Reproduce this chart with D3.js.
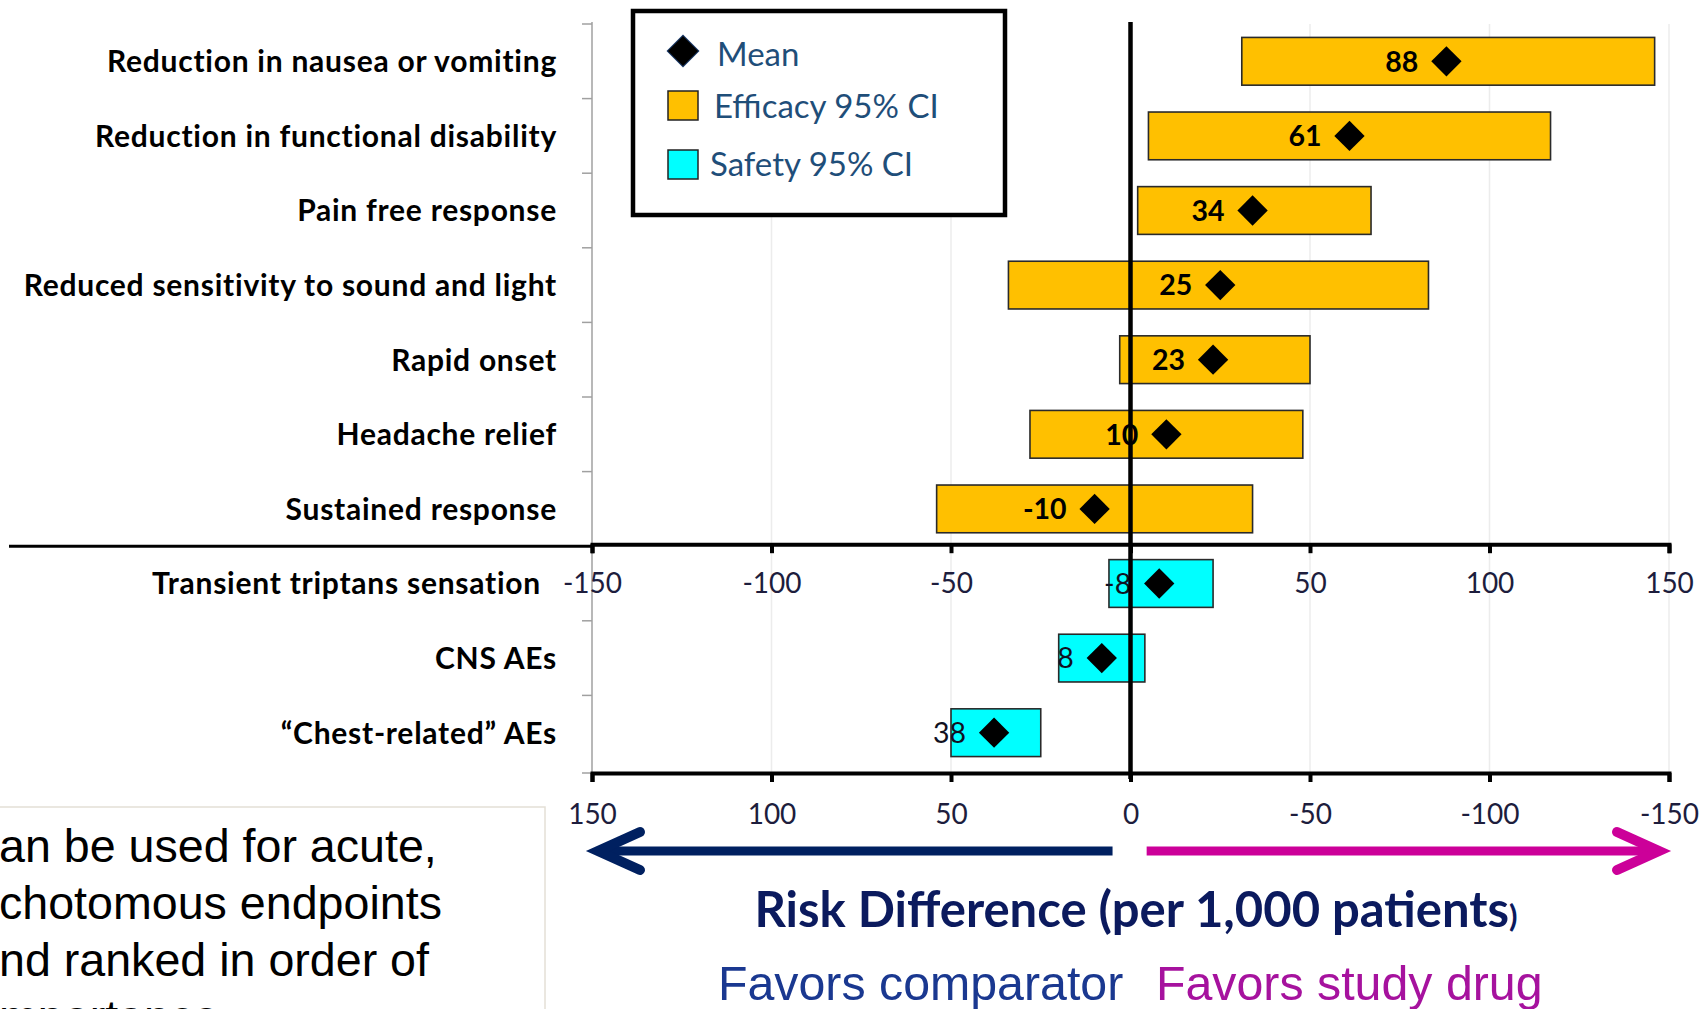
<!DOCTYPE html>
<html>
<head>
<meta charset="utf-8">
<script src="https://cdn.jsdelivr.net/npm/d3@7"></script>
<style>
  html, body { margin: 0; padding: 0; background: #ffffff; overflow: hidden; }
  svg { display: block; }
</style>
</head>
<body>
<svg id="chart" width="1705" height="1009"></svg>
<script>
// Benefit-risk forest chart: risk difference per 1,000 patients
const categories = [
  "Reduction in nausea or vomiting",
  "Reduction in functional disability",
  "Pain free response",
  "Reduced sensitivity to sound and light",
  "Rapid onset",
  "Headache relief",
  "Sustained response",
  "Transient triptans sensation",
  "CNS AEs",
  "\u201cChest-related\u201d AEs"
];
const groups = ["efficacy", "efficacy", "efficacy", "efficacy", "efficacy", "efficacy", "efficacy",
                "safety", "safety", "safety"];
const means = [88, 61, 34, 25, 23, 10, -10, -8, 8, 38];
const ciLower = [31, 5, 2, -34, -3, -28, -54, -23, -4, 25];
const ciUpper = [146, 117, 67, 83, 50, 48, 34, 6, 20, 50];
const tickValues = [-150, -100, -50, 0, 50, 100, 150];
const legendLabels = ["Mean", "Efficacy 95% CI", "Safety 95% CI"];
const axisTitle = "Risk Difference (per 1,000 patients";
const favorLabels = ["Favors comparator", "Favors study drug"];
const noteLines = ["an be used for acute,", "chotomous endpoints", "nd ranked in order of", "mportance"];

const rows = categories.map((c, i) => ({
  name: c, group: groups[i], mean: means[i], lo: ciLower[i], hi: ciUpper[i]
}));

const svg = d3.select("#chart");
const W = 1705, H = 1009;
const plot = { left: 592, right: 1669, top: 24, bottom: 773 };
const colors = {
  efficacy: "#FFC000", safety: "#00FFFF",
  tick: "#1d1d3d", legendText: "#1F4E79",
  navy: "#002060", magenta: "#CC0099",
  title: "#0B1A5E", comparator: "#1A3890", study: "#A6129E"
};

svg.append("rect").attr("width", W).attr("height", H).attr("fill", "#ffffff");

// efficacy rows use the upper scale, safety rows the reversed lower scale
const x = d3.scaleLinear().domain([-150, 150]).range([plot.left, plot.right]);
const xSafety = d3.scaleLinear().domain([150, -150]).range([plot.left, plot.right]);
const xFor = d => d.group === "safety" ? xSafety : x;

const rowsBottom = 770;
const y = d3.scaleBand().domain(categories).range([plot.top, rowsBottom])
  .paddingInner(0.36).paddingOuter(0.18);
const step = y.step();
const splitY = plot.top + step * groups.filter(g => g === "efficacy").length;

// gridlines
svg.append("g").selectAll("line")
  .data(tickValues.filter(v => v !== -150 && v !== 0))
  .join("line")
  .attr("x1", d => x(d)).attr("x2", d => x(d))
  .attr("y1", plot.top).attr("y2", plot.bottom)
  .attr("stroke", "#ECECEC").attr("stroke-width", 1.5);

// category axis (grey) with ticks at row boundaries
svg.append("line")
  .attr("x1", plot.left).attr("x2", plot.left)
  .attr("y1", plot.top - 2).attr("y2", plot.bottom)
  .attr("stroke", "#A0A0A0").attr("stroke-width", 1.5);
svg.append("g").selectAll("line")
  .data(d3.range(categories.length + 1))
  .join("line")
  .attr("x1", plot.left - 10).attr("x2", plot.left)
  .attr("y1", k => k === categories.length ? plot.bottom : plot.top + k * step)
  .attr("y2", k => k === categories.length ? plot.bottom : plot.top + k * step)
  .attr("stroke", "#A0A0A0").attr("stroke-width", 1.5);

// separator between efficacy and safety endpoints
svg.append("line")
  .attr("x1", 9).attr("x2", plot.left)
  .attr("y1", splitY).attr("y2", splitY)
  .attr("stroke", "#000").attr("stroke-width", 3);

// value axes
function styleAxis(g) {
  g.select(".domain").attr("stroke", "#000").attr("stroke-width", 4);
  g.selectAll(".tick line").attr("stroke", "#000").attr("stroke-width", 4);
  g.selectAll(".tick text")
    .attr("fill", colors.tick)
    .style("font-family", "Lato, 'Open Sans', sans-serif")
    .style("font-size", "28px");
}
// the upper axis zero label sits under the first safety bar, so it is left blank
svg.append("g")
  .attr("transform", `translate(0,${splitY - 2})`)
  .call(d3.axisBottom(x).tickValues(tickValues).tickFormat(d => d === 0 ? "" : String(d))
    .tickSizeOuter(0).tickSize(9).tickPadding(20))
  .call(styleAxis);
svg.append("g")
  .attr("transform", `translate(0,${plot.bottom})`)
  .call(d3.axisBottom(xSafety).tickValues(tickValues).tickFormat(d => String(d))
    .tickSizeOuter(0).tickSize(9).tickPadding(22))
  .call(styleAxis);

// category labels
svg.append("g").selectAll("text")
  .data(rows)
  .join("text")
  .attr("x", (d, i) => i === 7 ? 541 : 557)
  .attr("y", d => y(d.name) + y.bandwidth() / 2)
  .attr("dy", "0.36em")
  .attr("text-anchor", "end")
  .attr("fill", "#000")
  .style("font-family", "Lato, sans-serif")
  .style("font-weight", 700)
  .style("font-size", "30px")
  .style("letter-spacing", "0.75px")
  .text(d => d.name);

// confidence-interval bars
svg.append("g").selectAll("rect")
  .data(rows)
  .join("rect")
  .attr("x", d => Math.min(xFor(d)(d.lo), xFor(d)(d.hi)))
  .attr("width", d => Math.abs(xFor(d)(d.hi) - xFor(d)(d.lo)))
  .attr("y", d => y(d.name))
  .attr("height", y.bandwidth())
  .attr("fill", d => colors[d.group])
  .attr("stroke", "#2a2a2a").attr("stroke-width", 1.6);

// mean value labels
svg.append("g").selectAll("text")
  .data(rows)
  .join("text")
  .attr("x", d => xFor(d)(d.mean) - 28)
  .attr("y", d => y(d.name) + y.bandwidth() / 2)
  .attr("dy", "0.36em")
  .attr("text-anchor", "end")
  .attr("fill", d => d.group === "safety" ? "#111122" : "#000")
  .style("font-family", "Lato, sans-serif")
  .style("font-weight", d => d.group === "safety" ? 400 : 700)
  .style("font-size", "28.5px")
  .text(d => String(d.mean));

// zero reference line
svg.append("line")
  .attr("x1", x(0)).attr("x2", x(0))
  .attr("y1", plot.top - 2).attr("y2", plot.bottom + 6)
  .attr("stroke", "#000").attr("stroke-width", 4.5);

// mean diamonds
const diamond = d3.symbol().type(d3.symbolSquare).size(460);
svg.append("g").selectAll("path")
  .data(rows)
  .join("path")
  .attr("d", diamond)
  .attr("transform", d => `translate(${xFor(d)(d.mean)},${y(d.name) + y.bandwidth() / 2}) rotate(45)`)
  .attr("fill", "#000");

// legend
const lg = svg.append("g");
lg.append("rect").attr("x", 633).attr("y", 11).attr("width", 372).attr("height", 204)
  .attr("fill", "#fff").attr("stroke", "#000").attr("stroke-width", 4.5);
lg.append("path").attr("d", d3.symbol().type(d3.symbolSquare).size(500))
  .attr("transform", "translate(683,51) rotate(45)").attr("fill", "#000")
  .attr("stroke", "#1F3F6F").attr("stroke-width", 1);
lg.append("rect").attr("x", 668).attr("y", 91).attr("width", 30).attr("height", 29)
  .attr("fill", colors.efficacy).attr("stroke", "#222").attr("stroke-width", 1.5);
lg.append("rect").attr("x", 668).attr("y", 150).attr("width", 30).attr("height", 29)
  .attr("fill", colors.safety).attr("stroke", "#222").attr("stroke-width", 1.5);
lg.selectAll("text.leg")
  .data(legendLabels)
  .join("text")
  .attr("class", "leg")
  .attr("x", (d, i) => [717, 714, 710][i])
  .attr("y", (d, i) => [66, 118, 176][i])
  .attr("fill", colors.legendText)
  .style("font-family", "Lato, sans-serif")
  .style("font-size", "33px")
  .text(d => d);

// direction arrows
function arrow(x0, x1, yy, color) {
  const dir = Math.sign(x1 - x0);
  svg.append("line").attr("x1", x0).attr("x2", x1 - dir * 6).attr("y1", yy).attr("y2", yy)
    .attr("stroke", color).attr("stroke-width", 9);
  svg.append("path")
    .attr("d", `M${x1 - dir * 42},${yy - 19} L${x1},${yy} L${x1 - dir * 42},${yy + 19}`)
    .attr("fill", "none").attr("stroke", color).attr("stroke-width", 10)
    .attr("stroke-linecap", "round").attr("stroke-linejoin", "miter");
}
arrow(x(-5), x(-150) + 6, 851, colors.navy);
arrow(x(4.5), x(150) - 10, 851, colors.magenta);

// axis title
const title = svg.append("text")
  .attr("x", 1136).attr("y", 927)
  .attr("text-anchor", "middle")
  .attr("fill", colors.title)
  .style("font-family", "Lato, sans-serif")
  .style("font-weight", 700)
  .style("font-size", "49px");
title.append("tspan").text(axisTitle);
title.append("tspan").style("font-size", "31px").text(")");

svg.append("text").attr("x", 718).attr("y", 1000)
  .attr("fill", colors.comparator)
  .style("font-family", "'Liberation Sans', Arial, sans-serif")
  .style("font-size", "48.3px").text(favorLabels[0]);
svg.append("text").attr("x", 1156).attr("y", 1000)
  .attr("fill", colors.study)
  .style("font-family", "'Liberation Sans', Arial, sans-serif")
  .style("font-size", "48.3px").text(favorLabels[1]);

// side note box
svg.append("rect").attr("x", -6).attr("y", 807).attr("width", 551).attr("height", 260)
  .attr("fill", "#fff").attr("stroke", "#E4DFD6").attr("stroke-width", 1.5);
svg.append("g").selectAll("text")
  .data(noteLines)
  .join("text")
  .attr("x", -1)
  .attr("y", (d, i) => 862 + i * 57)
  .attr("fill", "#000")
  .style("font-family", "'Liberation Sans', Arial, sans-serif")
  .style("font-size", "46.6px")
  .text(d => d);
</script>
</body>
</html>
